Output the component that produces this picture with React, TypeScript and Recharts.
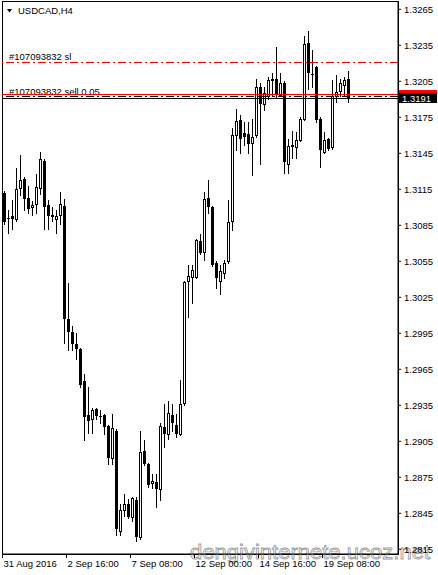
import { ComposedChart, Bar, XAxis, YAxis, ReferenceLine, Customized } from 'recharts'

// USDCAD H4 candles, 31 Aug 2016 00:00 onwards
const opens = [
  1.3112, 1.3091, 1.3093, 1.3090, 1.3116, 1.3124, 1.3108, 1.3100, 1.3103, 1.3116,
  1.3139, 1.3102, 1.3094, 1.3090, 1.3094, 1.3101, 1.3007, 1.2996, 1.2986, 1.2982,
  1.2955, 1.2927, 1.2924, 1.2932, 1.2926, 1.2927, 1.2918, 1.2891, 1.2914, 1.2830,
  1.2848, 1.2853, 1.2842, 1.2856, 1.2825, 1.2897, 1.2886, 1.2870, 1.2871, 1.2865,
  1.2917, 1.2911, 1.2927, 1.2919, 1.2911, 1.2937, 1.3039, 1.3042, 1.3042, 1.3072,
  1.3063, 1.3108, 1.3100, 1.3054, 1.3039, 1.3045, 1.3055, 1.3089, 1.3160, 1.3173,
  1.3162, 1.3161, 1.3154, 1.3160, 1.3200, 1.3186, 1.3193, 1.3207, 1.3207, 1.3194,
  1.3204, 1.3136, 1.3152, 1.3150, 1.3156, 1.3174, 1.3237, 1.3211, 1.3217, 1.3174,
  1.3146, 1.3157, 1.3150, 1.3193, 1.3197, 1.3202, 1.3207,
]
const highs = [
  1.3114, 1.3098, 1.3106, 1.3133, 1.3144, 1.3125, 1.3118, 1.3105, 1.3128, 1.3146,
  1.3140, 1.3106, 1.3100, 1.3098, 1.3113, 1.3107, 1.3037, 1.3001, 1.2995, 1.2983,
  1.2961, 1.2950, 1.2933, 1.2933, 1.2931, 1.2928, 1.2919, 1.2928, 1.2915, 1.2853,
  1.2861, 1.2857, 1.2859, 1.2859, 1.2914, 1.2906, 1.2887, 1.2878, 1.2878, 1.2920,
  1.2936, 1.2939, 1.2936, 1.2928, 1.2956, 1.3039, 1.3052, 1.3052, 1.3074, 1.3078,
  1.3113, 1.3123, 1.3101, 1.3055, 1.3052, 1.3056, 1.3106, 1.3166, 1.3182, 1.3177,
  1.3171, 1.3171, 1.3174, 1.3207, 1.3204, 1.3200, 1.3209, 1.3212, 1.3234, 1.3212,
  1.3205, 1.3157, 1.3164, 1.3163, 1.3175, 1.3243, 1.3247, 1.3231, 1.3218, 1.3175,
  1.3163, 1.3158, 1.3206, 1.3210, 1.3207, 1.3209, 1.3214,
]
const lows = [
  1.3086, 1.3079, 1.3082, 1.3089, 1.3110, 1.3098, 1.3095, 1.3094, 1.3095, 1.3111,
  1.3082, 1.3082, 1.3089, 1.3079, 1.3086, 1.2987, 1.2981, 1.2981, 1.2974, 1.2950,
  1.2906, 1.2912, 1.2912, 1.2924, 1.2920, 1.2911, 1.2886, 1.2886, 1.2827, 1.2827,
  1.2843, 1.2841, 1.2839, 1.2822, 1.2824, 1.2885, 1.2867, 1.2866, 1.2850, 1.2856,
  1.2900, 1.2907, 1.2914, 1.2909, 1.2910, 1.2935, 1.3009, 1.3020, 1.3041, 1.3061,
  1.3056, 1.3095, 1.3051, 1.3033, 1.3028, 1.3041, 1.3054, 1.3081, 1.3148, 1.3145,
  1.3152, 1.3145, 1.3127, 1.3159, 1.3136, 1.3181, 1.3190, 1.3193, 1.3192, 1.3193,
  1.3129, 1.3129, 1.3141, 1.3141, 1.3155, 1.3173, 1.3199, 1.3200, 1.3171, 1.3134,
  1.3145, 1.3148, 1.3149, 1.3188, 1.3193, 1.3193, 1.3188,
]
const closes = [
  1.3088, 1.3090, 1.3090, 1.3115, 1.3123, 1.3107, 1.3099, 1.3102, 1.3117, 1.3140,
  1.3100, 1.3093, 1.3092, 1.3093, 1.3103, 1.3007, 1.2996, 1.2986, 1.2982, 1.2952,
  1.2925, 1.2922, 1.2931, 1.2926, 1.2925, 1.2917, 1.2891, 1.2916, 1.2832, 1.2848,
  1.2853, 1.2842, 1.2858, 1.2825, 1.2896, 1.2886, 1.2869, 1.2872, 1.2865, 1.2918,
  1.2911, 1.2929, 1.2920, 1.2911, 1.2936, 1.3038, 1.3043, 1.3048, 1.3073, 1.3062,
  1.3107, 1.3100, 1.3052, 1.3041, 1.3047, 1.3054, 1.3088, 1.3160, 1.3172, 1.3157,
  1.3159, 1.3153, 1.3159, 1.3200, 1.3186, 1.3195, 1.3206, 1.3205, 1.3194, 1.3204,
  1.3138, 1.3151, 1.3150, 1.3156, 1.3174, 1.3236, 1.3212, 1.3210, 1.3173, 1.3148,
  1.3156, 1.3149, 1.3193, 1.3196, 1.3204, 1.3206, 1.3191,
]

const tickIdx = [0, 16, 32, 48, 64, 80]
const tickLabels = ['31 Aug 2016', '2 Sep 16:00', '7 Sep 08:00', '12 Sep 00:00', '14 Sep 16:00', '19 Sep 08:00']
const priceTicks = [
  1.2815, 1.2845, 1.2875, 1.2905, 1.2935, 1.2965, 1.2995, 1.3025,
  1.3055, 1.3085, 1.3115, 1.3145, 1.3175, 1.3205, 1.3235, 1.3265,
]

const symbol = 'USDCAD,H4'
const orderTicket = '#107093832'
const slPrice = 1.3221
const orderPrice = 1.3192
const askPrice = 1.3194
const bidPrice = 1.3191
const shiftBars = 12

const FONT = 'Liberation Sans, Arial, sans-serif'

const rows: any[] = opens.map((o, i) => ({ i, open: o, high: highs[i], low: lows[i], close: closes[i] }))
for (let k = 0; k < shiftBars; k++) rows.push({ i: opens.length + k })

const Candle = (props: any) => {
  const { x, y, width, height, payload } = props
  if (!payload || payload.open == null) return null
  const { open, high, low, close } = payload
  const top = height >= 0 ? y : y + height
  const h = Math.abs(height)
  const k = h / (high - low)
  const left = Math.round(x + width / 2 - 2)
  const yHi = Math.round(top)
  const yLo = Math.round(top + h)
  const yo = Math.round(top + (high - open) * k)
  const yc = Math.round(top + (high - close) * k)
  const t = Math.min(yo, yc)
  const b = Math.max(yo, yc)
  const up = close > open
  return (
    <g shapeRendering="crispEdges">
      <rect x={left + 1} y={yHi} width={1} height={Math.max(1, yLo - yHi + 1)} fill="#000" />
      {up && b - t >= 2 ? (
        <rect x={left + 0.5} y={t + 0.5} width={2} height={b - t} fill="#fff" stroke="#000" strokeWidth={1} />
      ) : (
        <rect x={left} y={t} width={3} height={Math.max(1, b - t)} fill="#000" />
      )}
    </g>
  )
}

const TimeTick = (props: any) => {
  const { x, y, payload } = props
  const axisY = y - 6
  const label = tickLabels[tickIdx.indexOf(payload.value)]
  return (
    <g>
      <line x1={x - 1.5} x2={x - 1.5} y1={axisY} y2={axisY + 4} stroke="#000" shapeRendering="crispEdges" />
      <text x={x - 0.5} y={axisY + 13} fontSize={9.5} fontFamily={FONT} fill="#000">{label}</text>
    </g>
  )
}

const lineLabel = (text: string) => (p: any) => {
  const vb = p.viewBox
  return (
    <text x={vb.x + 7} y={vb.y - 2} fontSize={9.5} fontFamily={FONT} fill="#000">{text}</text>
  )
}

const priceTag = (value: number, bg: string) => (p: any) => {
  const vb = p.viewBox
  const ax = vb.x + vb.width
  return (
    <g>
      <rect x={ax + 1} y={Math.round(vb.y) - 5} width={38} height={10} fill={bg} shapeRendering="crispEdges" />
      <text x={ax + 4} y={Math.round(vb.y) + 4} fontSize={9.5} fontFamily={FONT} fill="#fff">{value.toFixed(4)}</text>
    </g>
  )
}

const Overlay = () => (
  <g>
    <rect x={2.5} y={1.5} width={396} height={552.5} fill="none" stroke="#000" shapeRendering="crispEdges" />
    <polygon points="7,9 12,9 9.5,12.5" fill="#000" />
    <text x={18} y={14} fontSize={9.5} fontFamily={FONT} fill="#000">{symbol}</text>
    <text
      x={190}
      y={559}
      fontSize={21}
      fontFamily={FONT}
      textLength={240}
      lengthAdjust="spacingAndGlyphs"
      fill="#fff"
      fillOpacity={0.6}
      stroke="#9a9a9a"
      strokeWidth={0.8}
    >
      dengivinternete.ucoz.net
    </text>
  </g>
)

export default function App() {
  return (
    <div style={{ position: 'absolute', left: 0, top: 0, width: 438, height: 575, background: '#fff' }}>
      <ComposedChart width={438} height={575} data={rows} margin={{ top: 2, right: 0, left: 2, bottom: 0 }}>
        <XAxis
          dataKey="i"
          type="category"
          ticks={tickIdx}
          interval={0}
          height={21}
          tickSize={4}
          tickMargin={2}
          tickLine={false}
          axisLine={{ stroke: '#000' }}
          tick={<TimeTick />}
        />
        <YAxis
          orientation="right"
          width={40}
          domain={[1.28111, 1.32711]}
          allowDataOverflow
          ticks={priceTicks}
          interval={0}
          tickSize={3}
          tickMargin={3}
          axisLine={{ stroke: '#000' }}
          tickLine={{ stroke: '#000' }}
          tick={{ fill: '#000', fontSize: 9.5, fontFamily: FONT }}
          tickFormatter={(v: number) => v.toFixed(4)}
        />
        <Bar
          dataKey={(d: any) => (d.open == null ? null : [d.low, d.high])}
          barSize={3}
          shape={<Candle />}
          isAnimationActive={false}
        />
        <ReferenceLine y={slPrice} stroke="#ff0000" strokeDasharray="8 3 2 3" shapeRendering="crispEdges" label={lineLabel(`${orderTicket} sl`)} />
        <ReferenceLine y={orderPrice} stroke="#000" strokeDasharray="8 3 2 3" shapeRendering="crispEdges" label={lineLabel(`${orderTicket} sell 0.05`)} />
        <ReferenceLine y={askPrice} stroke="#ff0000" shapeRendering="crispEdges" label={priceTag(askPrice, '#ff0000')} />
        <ReferenceLine y={bidPrice} stroke="#000" shapeRendering="crispEdges" label={priceTag(bidPrice, '#000')} />
        <Customized component={Overlay} />
      </ComposedChart>
    </div>
  )
}
